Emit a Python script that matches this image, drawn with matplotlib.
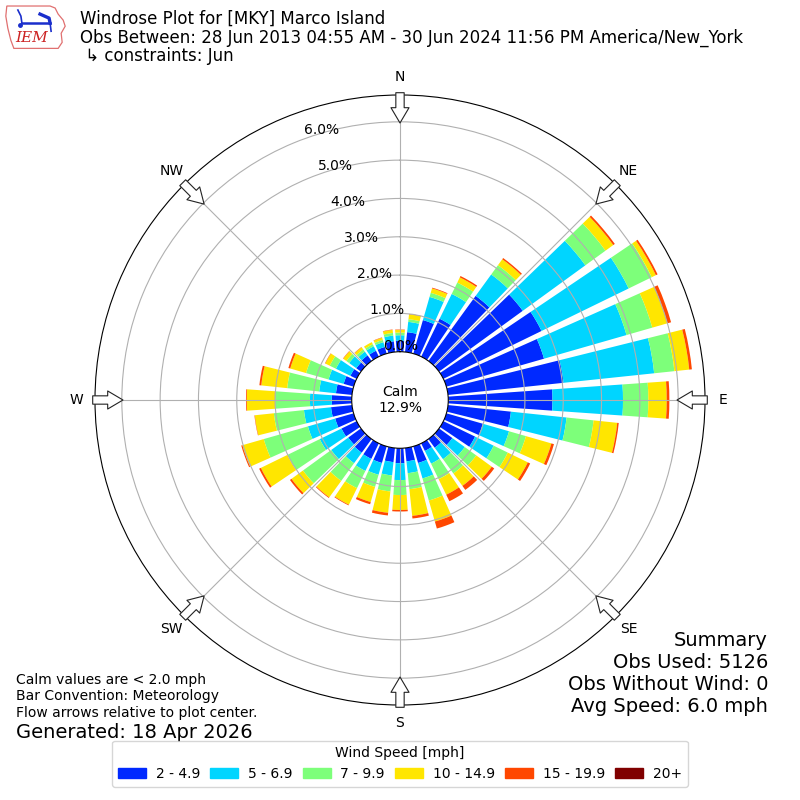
import numpy as np
import matplotlib
matplotlib.use("Agg")
from matplotlib import pyplot as plt
from matplotlib.patches import Patch, Polygon

# wind directions (degrees, meteorological "from")
directions = np.arange(0, 360, 10)

speed_labels = ['2 - 4.9', '5 - 6.9', '7 - 9.9', '10 - 14.9', '15 - 19.9', '20+']

# percent of observations per direction for each speed bin
spd_2_5 = [0.29, 0.52, 0.91, 1.10, 2.10, 2.70, 2.85, 2.65, 3.03, 2.72, 1.65, 0.99,
           0.92, 0.43, 0.28, 0.22, 0.45, 0.35, 0.39, 0.37, 0.45, 0.45, 0.44, 0.41,
           0.44, 0.50, 0.55, 0.52, 0.42, 0.27, 0.18, 0.15, 0.18, 0.17, 0.18, 0.28]
spd_5_7 = [0.14, 0.27, 0.63, 0.72, 0.69, 2.02, 2.53, 2.24, 2.38, 1.84, 1.46, 0.71,
           0.54, 0.40, 0.37, 0.37, 0.42, 0.31, 0.44, 0.35, 0.32, 0.35, 0.34, 0.55,
           0.63, 0.74, 0.71, 0.57, 0.44, 0.41, 0.42, 0.23, 0.12, 0.13, 0.13, 0.15]
spd_7_10 = [0.07, 0.07, 0.11, 0.33, 0.30, 0.65, 0.67, 0.70, 0.53, 0.66, 0.71, 0.46,
            0.41, 0.37, 0.46, 0.45, 0.60, 0.42, 0.39, 0.42, 0.33, 0.50, 0.57, 0.91,
            0.94, 1.20, 0.79, 0.91, 0.84, 0.61, 0.18, 0.09, 0.07, 0.06, 0.06, 0.07]
spd_10_15 = [0.07, 0.13, 0.12, 0.15, 0.19, 0.25, 0.12, 0.41, 0.39, 0.48, 0.62, 0.69,
             0.58, 0.50, 0.40, 0.45, 0.57, 0.70, 0.39, 0.56, 0.41, 0.48, 0.53, 0.37,
             0.77, 0.58, 0.50, 0.74, 0.68, 0.43, 0.13, 0.10, 0.07, 0.06, 0.06, 0.08]
spd_15_20 = [0.01, 0.01, 0.02, 0.04, 0.04, 0.05, 0.05, 0.10, 0.07, 0.07, 0.04, 0.07,
             0.07, 0.08, 0.13, 0.19, 0.19, 0.07, 0.04, 0.07, 0.06, 0.02, 0.02, 0.05,
             0.05, 0.03, 0.01, 0.02, 0.05, 0.05, 0.01, 0.01, 0.01, 0.00, 0.01, 0.01]
spd_20 = [0.0] * 36

calm_pct = 12.9
compass = ['N', 'NE', 'E', 'SE', 'S', 'SW', 'W', 'NW']
rings = [0, 1, 2, 3, 4, 5, 6]
summary_lines = ['Summary', 'Obs Used: 5126', 'Obs Without Wind: 0', 'Avg Speed: 6.0 mph']


def draw_logo(fig):
    """ rough stand-in for the IEM logo """
    lax = fig.add_axes([0.006, 0.937, 0.078, 0.058])
    lax.set_xlim(0, 62)
    lax.set_ylim(46, 0)
    lax.axis('off')
    outline = [(2, 2), (45, 2), (50, 4), (53, 10), (58, 16), (60, 22), (56, 29),
               (57, 38), (53, 44), (9, 44), (6, 36), (3, 24), (1, 12)]
    lax.add_patch(Polygon(outline, closed=True, fill=False, ec='#e07070', lw=0.9))
    blue = '#1a2ecc'
    lax.plot([17, 45], [19, 19], color=blue, lw=1.8)
    lax.plot([13, 16, 17], [6, 12, 19], color=blue, lw=1.2)
    lax.plot([35, 44, 45], [10, 14, 19], color=blue, lw=2.4)
    lax.plot([45, 46], [19, 27], color=blue, lw=1.2)
    lax.plot([15], [21], 'o', color=blue, ms=2.5)
    lax.text(10, 34, 'IEM', color='#cc2222', fontsize=11, family='DejaVu Serif',
             style='italic', va='center')


def main():
    fig = plt.figure(figsize=(8, 8), dpi=100)
    ax = fig.add_axes([0.11875, 0.11875, 0.7625, 0.7625], projection='polar')
    ax.set_theta_zero_location('N')
    ax.set_theta_direction(-1)
    ax.set_ylim(0, 6.7)
    ax.set_rorigin(-1.26)

    theta = np.deg2rad(directions)
    colors = plt.get_cmap('jet')(np.linspace(0, 1, 7)[1:])
    series = [spd_2_5, spd_5_7, spd_7_10, spd_10_15, spd_15_20, spd_20]

    bottom = np.zeros(len(directions))
    for vals, color, label in zip(series, colors, speed_labels):
        vals = np.array(vals)
        ax.bar(theta, vals, width=np.deg2rad(8), bottom=bottom, color=color,
               label=label, lw=0)
        bottom = bottom + vals

    ax.set_thetagrids(range(0, 360, 45), labels=[''] * 8)
    ax.set_rgrids(rings[1:], labels=[''] * 6)
    ax.grid(True, color='#b0b0b0', lw=0.8)

    # radial labels along a ray left of north
    lab_theta = np.deg2rad(-20)
    for r in rings:
        ax.text(lab_theta, r + 0.04, '%.1f%%' % r, ha='left', va='bottom', fontsize=10,
                zorder=5)

    # compass labels and flow arrows
    for i, name in enumerate(compass):
        th = np.deg2rad(i * 45)
        ax.annotate('', xy=(th, 5.97), xytext=(th, 6.76),
                    arrowprops=dict(arrowstyle='simple,head_length=0.55,head_width=0.65,tail_width=0.3',
                                    fc='white', ec='#222222', lw=0.8, mutation_scale=20,
                                    shrinkA=0, shrinkB=0),
                    annotation_clip=False)
        ax.text(th, 7.18, name, ha='center', va='center', fontsize=10, clip_on=False)

    ax.text(0.5, 0.5, 'Calm\n%.1f%%' % calm_pct, transform=ax.transAxes,
            ha='center', va='center', fontsize=10)

    fig.text(0.1, 0.988,
             'Windrose Plot for [MKY] Marco Island\n'
             'Obs Between: 28 Jun 2013 04:55 AM - 30 Jun 2024 11:56 PM America/New_York\n'
             ' \u21b3 constraints: Jun', ha='left', va='top', fontsize=12, linespacing=1.05)
    draw_logo(fig)

    fig.text(0.02, 0.1005, 'Calm values are < 2.0 mph\nBar Convention: Meteorology\n'
             'Flow arrows relative to plot center.', ha='left', va='bottom', fontsize=10)
    fig.text(0.02, 0.073, 'Generated: 18 Apr 2026', ha='left', va='bottom', fontsize=14)

    # summary block, one line per text so each line keeps its own extent
    for i, line in enumerate(summary_lines):
        fig.text(0.96, 0.2 - i * 0.0275, line, ha='right', va='center', fontsize=14)

    handles = [Patch(color=c) for c in colors]
    fig.legend(handles, speed_labels, loc='lower center', bbox_to_anchor=(0.5, 0.008),
               ncol=6, title='Wind Speed [mph]', fontsize=10, title_fontsize=10,
               columnspacing=0.75, handletextpad=0.7)

    fig.savefig('out.png', dpi=100)


if __name__ == '__main__':
    main()
